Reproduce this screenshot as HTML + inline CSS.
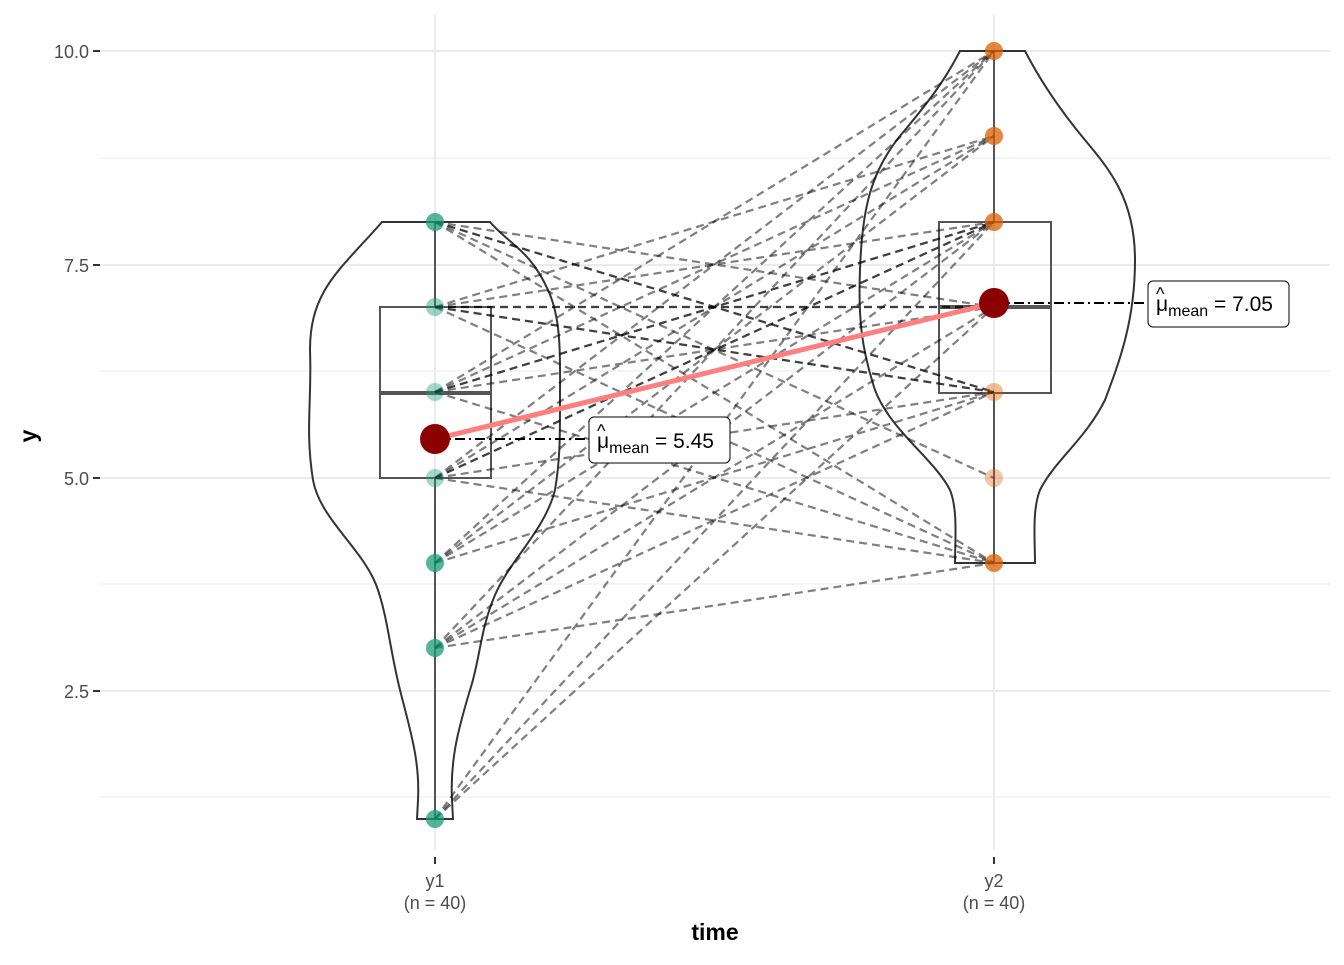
<!DOCTYPE html>
<html><head><meta charset="utf-8"><style>
body{margin:0;background:#fff}
text{font-family:"Liberation Sans",sans-serif}
</style></head><body>
<svg width="1344" height="960" xmlns="http://www.w3.org/2000/svg">
<g stroke="#ebebeb" stroke-width="1">
<line x1="100" x2="1330" y1="158" y2="158"/><line x1="100" x2="1330" y1="371" y2="371"/><line x1="100" x2="1330" y1="584" y2="584"/><line x1="100" x2="1330" y1="797" y2="797"/>
</g>
<g stroke="#ebebeb" stroke-width="2">
<line x1="100" x2="1330" y1="51" y2="51"/><line x1="100" x2="1330" y1="265" y2="265"/><line x1="100" x2="1330" y1="478" y2="478"/><line x1="100" x2="1330" y1="691" y2="691"/>
<line x1="435" x2="435" y1="15" y2="850"/><line x1="994" x2="994" y1="15" y2="850"/>
</g>
<path d="M382,222 L490,222 C510,245 530,250 548,290 C562,320 560,360 560,400 C560,440 560,460 555,490 C545,530 510,560 495,595 C480,630 480,660 470,690 C458,730 450,760 452,800 L453,819 L417,819 L418,800 C420,760 410,730 400,690 C390,650 388,620 378,590 C365,550 320,520 313,480 C305,430 312,400 310,350 C310,290 340,270 382,222 Z" fill="none" stroke="#333" stroke-width="2"/>
<path d="M960,51 L1025,51 C1040,80 1060,110 1085,140 C1110,170 1135,200 1135,260 C1135,320 1120,360 1105,400 C1085,440 1055,460 1040,490 C1032,510 1035,540 1035,563 L955,563 C955,540 958,510 950,490 C935,460 890,430 875,390 C862,350 858,320 860,270 C862,210 870,170 905,130 C930,100 945,80 960,51 Z" fill="none" stroke="#333" stroke-width="2"/>
<g stroke="#555" stroke-width="2" fill="none">
<line x1="435" x2="435" y1="222" y2="307"/><line x1="435" x2="435" y1="478" y2="819"/>
<rect x="380" y="307" width="111" height="171"/>
<line x1="994" x2="994" y1="51" y2="222"/><line x1="994" x2="994" y1="393" y2="563"/>
<rect x="939" y="222" width="112" height="171"/>
</g>
<line x1="380" x2="491" y1="393" y2="393" stroke="#555" stroke-width="4"/>
<line x1="939" x2="1051" y1="307" y2="307" stroke="#555" stroke-width="4"/>
<g stroke="#000" stroke-opacity="0.5" stroke-width="2.2" stroke-dasharray="8,5" fill="none">
<line x1="435" y1="222" x2="994" y2="392"/><line x1="435" y1="222" x2="994" y2="392"/><line x1="435" y1="222" x2="994" y2="307"/><line x1="435" y1="222" x2="994" y2="563"/><line x1="435" y1="222" x2="994" y2="478"/>
<line x1="435" y1="307" x2="994" y2="307"/><line x1="435" y1="307" x2="994" y2="307"/><line x1="435" y1="307" x2="994" y2="392"/><line x1="435" y1="307" x2="994" y2="392"/><line x1="435" y1="307" x2="994" y2="563"/><line x1="435" y1="307" x2="994" y2="222"/><line x1="435" y1="307" x2="994" y2="136"/>
<line x1="435" y1="392" x2="994" y2="222"/><line x1="435" y1="392" x2="994" y2="222"/><line x1="435" y1="392" x2="994" y2="136"/><line x1="435" y1="392" x2="994" y2="307"/><line x1="435" y1="392" x2="994" y2="51"/><line x1="435" y1="392" x2="994" y2="563"/>
<line x1="435" y1="478" x2="994" y2="222"/><line x1="435" y1="478" x2="994" y2="222"/><line x1="435" y1="478" x2="994" y2="51"/><line x1="435" y1="478" x2="994" y2="392"/><line x1="435" y1="478" x2="994" y2="563"/><line x1="435" y1="478" x2="994" y2="136"/>
<line x1="435" y1="563" x2="994" y2="51"/><line x1="435" y1="563" x2="994" y2="136"/><line x1="435" y1="563" x2="994" y2="222"/><line x1="435" y1="563" x2="994" y2="392"/>
<line x1="435" y1="648" x2="994" y2="51"/><line x1="435" y1="648" x2="994" y2="222"/><line x1="435" y1="648" x2="994" y2="307"/><line x1="435" y1="648" x2="994" y2="392"/><line x1="435" y1="648" x2="994" y2="563"/>
<line x1="435" y1="819" x2="994" y2="51"/><line x1="435" y1="819" x2="994" y2="222"/><line x1="435" y1="819" x2="994" y2="307"/>
</g>
<g fill="#1b9e77" fill-opacity="0.75">
<circle cx="435" cy="222" r="9"/><circle cx="435" cy="307" r="9" fill-opacity="0.45"/><circle cx="435" cy="392" r="9" fill-opacity="0.4"/><circle cx="435" cy="478" r="9" fill-opacity="0.4"/><circle cx="435" cy="563" r="9"/><circle cx="435" cy="648" r="9"/><circle cx="435" cy="819" r="9"/>
</g>
<g fill="#d95f02" fill-opacity="0.75">
<circle cx="994" cy="51" r="9"/><circle cx="994" cy="136" r="9"/><circle cx="994" cy="222" r="9"/><circle cx="994" cy="307" r="9"/><circle cx="994" cy="392" r="9" fill-opacity="0.4"/><circle cx="994" cy="478" r="9" fill-opacity="0.35"/><circle cx="994" cy="563" r="9"/>
</g>
<line x1="435" y1="439" x2="994" y2="303" stroke="#ff7f7f" stroke-width="5"/>
<g stroke="#000" stroke-width="2" stroke-dasharray="10,4,2,4">
<line x1="435" y1="439" x2="590" y2="439"/><line x1="994" y1="303" x2="1148" y2="303"/>
</g>
<circle cx="435" cy="439" r="15" fill="#8b0000"/><circle cx="994" cy="303" r="15" fill="#8b0000"/>
<rect x="589" y="417" width="141" height="46" rx="5" fill="#fff" stroke="#000" stroke-width="1"/>
<text x="597" y="448" font-size="21">μ<tspan font-size="16" dy="5">mean</tspan><tspan dy="-5"> = 5.45</tspan></text>
<text x="597" y="437" font-size="18">^</text>
<rect x="1148" y="281" width="141" height="46" rx="5" fill="#fff" stroke="#000" stroke-width="1"/>
<text x="1156" y="311" font-size="21">μ<tspan font-size="16" dy="5">mean</tspan><tspan dy="-5"> = 7.05</tspan></text>
<text x="1156" y="300" font-size="18">^</text>
<g stroke="#333" stroke-width="2">
<line x1="93" x2="100" y1="51" y2="51"/><line x1="93" x2="100" y1="265" y2="265"/><line x1="93" x2="100" y1="478" y2="478"/><line x1="93" x2="100" y1="691" y2="691"/>
<line x1="435" x2="435" y1="857" y2="864"/><line x1="994" x2="994" y1="857" y2="864"/>
</g>
<g font-size="18" fill="#4d4d4d" text-anchor="end">
<text x="89" y="58">10.0</text><text x="89" y="272">7.5</text><text x="89" y="485">5.0</text><text x="89" y="698">2.5</text>
</g>
<g font-size="18" fill="#4d4d4d" text-anchor="middle">
<text x="435" y="887">y1</text><text x="435" y="909">(n = 40)</text>
<text x="994" y="887">y2</text><text x="994" y="909">(n = 40)</text>
</g>
<text x="715" y="940" font-size="23" font-weight="bold" text-anchor="middle">time</text>
<text x="36" y="436" font-size="23" font-weight="bold" text-anchor="middle" transform="rotate(-90 36 436)">y</text>
</svg>
</body></html>
